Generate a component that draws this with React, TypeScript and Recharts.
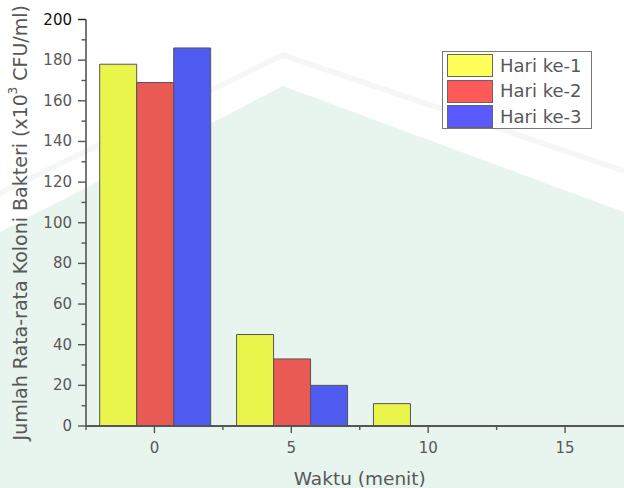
import React from 'react';
import { BarChart, Bar, XAxis, YAxis, Legend, Label } from 'recharts';

const times = [0, 5, 10, 15];
const hari1 = [178, 45, 11, 0];
const hari2 = [169, 33, 0, 0];
const hari3 = [186, 20, 0, 0];
const seriesNames = ['Hari ke-1', 'Hari ke-2', 'Hari ke-3'];
const seriesKeys = ['h1', 'h2', 'h3'];

const xTicks = [-2.5, 0, 2.5, 5, 7.5, 10, 12.5, 15, 17.5];
const xLabelTicks = [0, 5, 10, 15];
const topTicks = [-0.5, 1.5, 3.5, 5.5, 7.5, 9.5, 11.5, 13.5, 15.5, 17.5];
const topMajorTicks = [1.5, 5.5, 9.5, 13.5, 17.5];
const yTicks = [0, 10, 20, 30, 40, 50, 60, 70, 80, 90, 100, 110, 120, 130, 140, 150, 160, 170, 180, 190, 200];
const yLabelTicks = [0, 20, 40, 60, 80, 100, 120, 140, 160, 180, 200];

const data = times.map((t, i) => ({ t, h1: hari1[i], h2: hari2[i], h3: hari3[i] }));

const FONT = "'DejaVu Sans', sans-serif";
const TEXT = '#585858';
const AXIS = '#555';
const barFill = ['#eaf54c', '#e95a55', '#4f5bf0'];
const swatchFill = ['#ffff5a', '#ff5a5a', '#5a5aff'];

const XTick = (props: any) => {
  const { x, y, payload } = props;
  const v = payload.value;
  const major = xLabelTicks.includes(v);
  return (
    <g>
      <line x1={x} x2={x} y1={y} y2={y + (major ? 7 : 4)} stroke={AXIS} strokeWidth={1.4} />
      {major && (
        <text x={x} y={y + 27} textAnchor="middle" fontSize={15} fill={TEXT} fontFamily={FONT}>
          {v}
        </text>
      )}
    </g>
  );
};

const TopTick = (props: any) => {
  const { x, y, payload } = props;
  const major = topMajorTicks.includes(payload.value);
  return <line x1={x} x2={x} y1={y} y2={y + (major ? 8 : 4)} stroke="#222" strokeWidth={1.4} />;
};

const YTick = (props: any) => {
  const { x, y, payload } = props;
  const v = payload.value;
  const major = yLabelTicks.includes(v);
  return (
    <g>
      <line x1={x - (major ? 8 : 4.5)} x2={x} y1={y} y2={y} stroke={v === 200 ? '#222' : AXIS} strokeWidth={1.4} />
      {major && (
        <text x={x - 14} y={y} textAnchor="end" dominantBaseline="central" fontSize={15} fill={v === 200 ? '#111' : TEXT} fontFamily={FONT}>
          {v}
        </text>
      )}
    </g>
  );
};

const YLabel = (props: any) => {
  const vb = props.viewBox || {};
  const cx = 20;
  const cy = (vb.y || 0) + (vb.height || 0) / 2;
  return (
    <text
      x={cx}
      y={cy}
      transform={`rotate(-90 ${cx} ${cy})`}
      textAnchor="middle"
      dominantBaseline="central"
      fontSize={19}
      fill={TEXT}
      fontFamily={FONT}
    >
      <tspan>Jumlah Rata-rata Koloni Bakteri (x10</tspan>
      <tspan fontSize={11.5} dy={-7}>3</tspan>
      <tspan dy={7}> CFU/ml)</tspan>
    </text>
  );
};

const XLabel = (props: any) => {
  const vb = props.viewBox || {};
  const cx = (vb.x || 0) + (vb.width || 0) / 2;
  return (
    <text x={cx} y={485} textAnchor="middle" fontSize={18.5} fill={TEXT} fontFamily={FONT}>
      Waktu (menit)
    </text>
  );
};

const LegendBox = () => (
  <div
    style={{
      boxSizing: 'border-box',
      width: 150,
      height: 78,
      border: '1px solid #777',
      background: '#fff',
      padding: '1px 0 0 4px',
      fontFamily: FONT,
    }}
  >
    {seriesNames.map((n, i) => (
      <div key={n} style={{ display: 'flex', alignItems: 'center', height: 25.5 }}>
        <div
          style={{
            width: 46,
            height: 23,
            background: swatchFill[i],
            border: '1px solid #666',
            boxSizing: 'border-box',
          }}
        />
        <span style={{ marginLeft: 7, fontSize: 18, color: TEXT, lineHeight: 1, whiteSpace: 'nowrap' }}>{n}</span>
      </div>
    ))}
  </div>
);

export default function App() {
  return (
    <div style={{ position: 'fixed', left: 0, top: 0, width: 624, height: 488, overflow: 'hidden', background: '#fff' }}>
      <div
        style={{
          position: 'absolute',
          left: 0,
          top: 0,
          width: 624,
          height: 488,
          background: '#f4f7f6',
          clipPath: 'polygon(0px 190px, 283px 52px, 624px 168px, 624px 488px, 0px 488px)',
        }}
      />
      <div
        style={{
          position: 'absolute',
          left: 0,
          top: 0,
          width: 624,
          height: 488,
          background: '#fff',
          clipPath: 'polygon(0px 196px, 283px 58px, 624px 174px, 624px 488px, 0px 488px)',
        }}
      />
      <div
        style={{
          position: 'absolute',
          left: 0,
          top: 0,
          width: 624,
          height: 488,
          background: '#e8f5ef',
          clipPath: 'polygon(0px 232px, 283px 86px, 624px 212px, 624px 488px, 0px 488px)',
        }}
      />
      <div style={{ position: 'absolute', left: 0, top: 0 }}>
        <BarChart
          width={660}
          height={488}
          data={data}
          margin={{ top: 19.5, right: 26.5, bottom: 0, left: 0 }}
          barCategoryGap="10%"
          barGap={0}
        >
          <XAxis
            dataKey="t"
            type="number"
            domain={[-2.5, 17.5]}
            ticks={xTicks}
            interval={0}
            height={62}
            tickSize={0}
            tickMargin={0}
            tickLine={false}
            tick={XTick}
            axisLine={{ stroke: AXIS, strokeWidth: 1.8 }}
            allowDataOverflow
          >
            <Label content={XLabel} />
          </XAxis>
          <XAxis
            xAxisId="top"
            orientation="top"
            dataKey="t"
            type="number"
            domain={[-2.5, 17.5]}
            ticks={topTicks}
            interval={0}
            height={0}
            tickSize={0}
            tickMargin={0}
            tickLine={false}
            tick={TopTick}
            axisLine={{ stroke: '#111', strokeWidth: 1.5 }}
            allowDataOverflow
          />
          <YAxis
            type="number"
            domain={[0, 200]}
            ticks={yTicks}
            interval={0}
            width={86}
            tickSize={0}
            tickMargin={0}
            tickLine={false}
            tick={YTick}
            axisLine={{ stroke: AXIS, strokeWidth: 1.6 }}
            allowDataOverflow
          >
            <Label content={YLabel} />
          </YAxis>
          <Legend
            layout="horizontal"
            verticalAlign="middle"
            align="center"
            wrapperStyle={{ top: 51, left: 442, width: 150, height: 78 }}
            content={LegendBox}
          />
          {seriesKeys.map((k, i) => (
            <Bar
              key={k}
              dataKey={k}
              name={seriesNames[i]}
              fill={barFill[i]}
              stroke="#555"
              strokeWidth={1}
              isAnimationActive={false}
            />
          ))}
        </BarChart>
      </div>
    </div>
  );
}
